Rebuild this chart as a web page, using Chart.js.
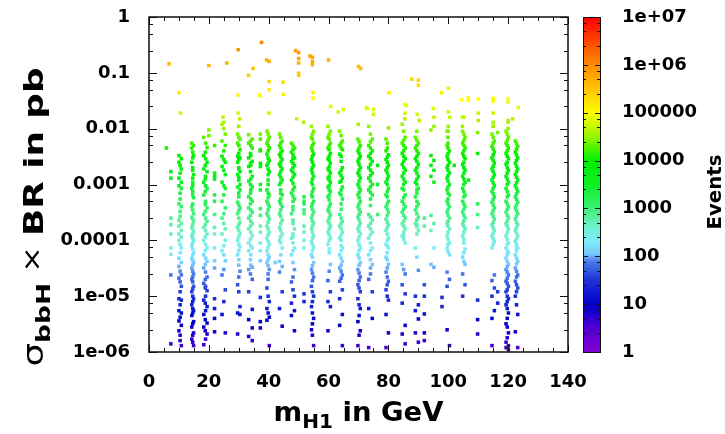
<!DOCTYPE html>
<html>
<head>
<meta charset="utf-8">
<script src="https://cdn.jsdelivr.net/npm/chart.js@4.4.1/dist/chart.umd.min.js"></script>
<style>
  html, body { margin: 0; padding: 0; background: #fff; }
</style>
</head>
<body>
<canvas id="chart" width="725" height="434"></canvas>
<script>
// bbH -> H1 scan: cross section times BR against the H1 mass, coloured by event count
const lumi = 3000; // fb^-1

const columnMass = [7.3, 10.0, 10.8, 14.3, 14.9, 18.3, 19.4, 21.9, 24.4, 25.5, 29.6, 30.4, 33.3, 34.5,
  37.2, 39.4, 40.2, 42.2, 43.6, 44.5, 47.6, 48.6, 51.8, 54.3, 55.0, 59.8, 60.6, 63.7, 64.6, 69.8, 70.6,
  73.4, 74.6, 76.4, 79.2, 80.0, 84.6, 85.6, 89.0, 90.0, 92.0, 94.2, 95.2, 97.9, 99.6, 100.4, 102.0,
  104.8, 105.6, 106.8, 109.8, 114.6, 115.4, 116.5, 119.3, 120.1, 122.4, 123.2,
  14.6, 18.9, 25.0, 30.0, 33.9, 39.8, 44.0, 48.1, 54.6, 60.2, 64.2, 70.2, 74.0, 79.6, 85.1, 89.5,
  99.9, 105.2, 115.0, 119.7, 122.8];

const columnSigma = [
  [1.7e-3, 1.3e-3, 2.5e-4, 1.9e-4, 1.3e-4, 7.3e-5, 5.6e-5, 2.4e-5, 1.4e-6],
  [3.3e-3, 2.5e-3, 1.3e-3, 9.5e-4, 4.5e-4, 2.3e-4, 1.8e-4, 1.3e-4, 1e-4, 4.8e-5, 3.4e-5, 2.1e-5, 9e-6, 5.5e-6, 3.6e-6, 2.4e-6],
  [2.9e-3, 1.9e-3, 1.1e-3, 8.5e-4, 4e-4, 2e-4, 1.5e-4, 1.15e-4, 7.3e-5, 4e-5, 2.4e-5, 1.5e-5, 8.5e-6, 5e-6, 3e-6, 1.3e-6],
  [5.5e-3, 4.5e-3, 2.5e-3, 8.5e-4, 4e-4, 2.6e-4, 1.7e-4, 1.2e-4, 8e-5, 4.8e-5, 3.2e-5, 2e-5, 1.2e-5, 7e-6, 4.5e-6, 2.8e-6, 1.7e-6],
  [5e-3, 3.3e-3, 1.5e-3, 5.8e-4, 3e-4, 2.2e-4, 1.4e-4, 1e-4, 6e-5, 4e-5, 2.5e-5, 1.5e-5, 9e-6, 5.5e-6, 3.5e-6, 2.2e-6, 1.3e-6],
  [7e-3, 3.3e-3, 1.9e-3, 1.1e-3, 6.5e-4, 2.9e-4, 1.7e-4, 1e-4, 5.5e-5, 3.2e-5, 1.7e-5, 8.5e-6, 4.7e-6, 2.8e-6, 1.35e-6],
  [4.6e-3, 2.5e-3, 1.7e-3, 8.5e-4, 3.8e-4, 2.2e-4, 1.3e-4, 7.3e-5, 4.2e-5, 2.2e-5, 1.25e-5, 6.5e-6, 3.3e-6, 2.1e-6],
  [5e-3, 1.6e-3, 1.4e-3, 1.25e-3, 6.5e-4, 5e-4, 2.9e-4, 1.7e-4, 1.3e-4, 7.3e-5, 4.3e-5, 3.2e-5, 9e-6, 6e-6, 4e-6, 2.3e-6],
  [0.012, 6e-3, 3.2e-3, 2.1e-3, 1.1e-3, 5e-4, 2.5e-4, 1.3e-4, 6.5e-5, 2.4e-5, 4.7e-6],
  [8e-3, 5e-3, 2.5e-3, 1.5e-3, 8.5e-4, 3.8e-4, 1.6e-4, 1e-4, 4.3e-5, 1.3e-5, 2.2e-6],
  [8e-3, 5.5e-3, 3.2e-3, 2.5e-3, 1.5e-3, 9e-4, 4.8e-4, 3e-4, 1.7e-4, 1e-4, 5.5e-5, 1.6e-5, 5e-6, 2.1e-6],
  [6.5e-3, 4.2e-3, 3e-3, 1.7e-3, 1e-3, 8e-4, 3.8e-4, 2.1e-4, 1.3e-4, 7.6e-5, 2.8e-5, 6.5e-6, 4.7e-6],
  [7.8e-3, 5.5e-3, 3e-3, 2.1e-3, 1.15e-3, 6e-4, 3.8e-4, 2.5e-4, 1.6e-4, 9e-5, 6.5e-5, 3e-5, 1.2e-5, 3.8e-6, 1.9e-6],
  [6.5e-3, 4.5e-3, 2.6e-3, 1.4e-3, 9e-4, 5e-4, 3.2e-4, 2e-4, 1.2e-4, 7.3e-5, 3.3e-5, 2e-5, 5.8e-6, 2.7e-6, 1.6e-6],
  [8e-3, 6.5e-3, 4.2e-3, 4e-3, 2.4e-3, 2.1e-3, 1e-3, 8e-4, 3.7e-4, 2.8e-4, 1.8e-4, 1.4e-4, 9e-5, 6.5e-5, 4.3e-5, 9.5e-6, 3.5e-6, 2.7e-6],
  [9e-3, 5.5e-3, 3.5e-3, 2.2e-3, 8e-4, 5e-4, 3e-4, 1.8e-4, 1.1e-4, 6.5e-5, 4e-5, 1.4e-5, 6e-6, 3.7e-6],
  [7e-3, 4.5e-3, 2.7e-3, 1.7e-3, 6.5e-4, 4e-4, 2.4e-4, 1.4e-4, 8.5e-5, 5e-5, 3e-5, 8e-6, 4.2e-6, 1.3e-6],
  [4e-5],
  [8e-3, 5e-3, 3.4e-3, 2.3e-3, 1.5e-3, 1e-3, 5e-4, 3e-4, 1.7e-4, 1e-4, 4.2e-5, 2.7e-5, 6e-6],
  [6e-3, 4e-3, 2.8e-3, 1.9e-3, 1.2e-3, 6.5e-4, 4e-4, 2.3e-4, 1.3e-4, 7.3e-5, 3.4e-5, 1.2e-5, 2.9e-6],
  [5.5e-3, 3.8e-3, 2.6e-3, 1.8e-3, 1.2e-3, 7e-4, 3e-4, 1.1e-4, 5.5e-5, 1.8e-5, 7.5e-6, 4.5e-6],
  [4.5e-3, 3e-3, 2.2e-3, 1.5e-3, 9e-4, 5.5e-4, 1.6e-4, 7.3e-5, 3e-5, 1e-5, 5.5e-6, 2.4e-6],
  [6e-4, 5e-4, 4.5e-4, 3.5e-4, 3e-4, 1.8e-4, 1.4e-4, 1e-4, 7.3e-5, 1.1e-5, 8e-6],
  [0.011, 7e-3, 4.5e-3, 2.8e-3, 1.8e-3, 1.1e-3, 6.5e-4, 4e-4, 2.5e-4, 1.6e-4, 9.5e-5, 5.5e-5, 3e-5, 1.5e-5, 6.5e-6, 2.5e-6],
  [9e-3, 5.5e-3, 3.5e-3, 2.2e-3, 1.4e-3, 8.5e-4, 5e-4, 3.2e-4, 2e-4, 1.2e-4, 7.5e-5, 4e-5, 2.2e-5, 1e-5, 4e-6, 1.3e-6],
  [0.011, 7e-3, 4.5e-3, 2.9e-3, 1.9e-3, 1.3e-3, 9e-4, 6e-4, 3.5e-4, 2.2e-4, 1.4e-4, 8.5e-5, 1.9e-5, 8e-6, 2.4e-6],
  [9e-3, 5.5e-3, 3.6e-3, 2.4e-3, 1.6e-3, 1.1e-3, 7.5e-4, 4.5e-4, 2.8e-4, 1.8e-4, 1.1e-4, 3.7e-5, 1.2e-5, 6.5e-6],
  [9e-3, 5e-3, 3.5e-3, 1.6e-3, 1.1e-3, 7e-4, 2.9e-4, 1.8e-4, 1.1e-4, 5.5e-5, 3.2e-5, 1.85e-5, 9e-6, 3e-6],
  [6e-3, 4.2e-3, 2e-3, 1.3e-3, 9e-4, 5.5e-4, 2.2e-4, 1.4e-4, 7.3e-5, 4.2e-5, 2.4e-5, 1.3e-5, 4.7e-6, 1.3e-6],
  [6.5e-3, 4e-3, 2.6e-3, 1.6e-3, 1e-3, 6.5e-4, 4e-4, 2.6e-4, 1.6e-4, 1e-4, 5.5e-5, 3e-5, 1.6e-5, 9e-6, 3.5e-6, 1.3e-6],
  [5e-3, 3.2e-3, 2e-3, 1.3e-3, 8e-4, 5e-4, 3.2e-4, 2e-4, 1.3e-4, 7.3e-5, 4e-5, 2.2e-5, 1.2e-5, 6e-6, 2.4e-6],
  [0.011, 5e-3, 3.2e-3, 2e-3, 1.3e-3, 8e-4, 2.9e-4, 1.8e-4, 1.1e-4, 5.5e-5, 2e-5, 6e-6, 1.2e-6],
  [6.5e-3, 4e-3, 2.6e-3, 1.6e-3, 1e-3, 6.5e-4, 2.3e-4, 1.4e-4, 7.3e-5, 3.7e-5, 1.2e-5, 4e-6],
  [2.2e-3, 1e-3, 2.9e-4],
  [6.5e-3, 4e-3, 2.8e-3, 1.8e-3, 1.1e-3, 6.5e-4, 4e-4, 2.4e-4, 1.5e-4, 8.5e-5, 5e-5, 2.7e-5, 1.3e-5, 4.7e-6, 1.2e-6],
  [3.4e-3, 2.2e-3, 1.4e-3, 8.5e-4, 5e-4, 3.2e-4, 1.9e-4, 1.1e-4, 7.3e-5, 3.7e-5, 1.85e-5, 8.5e-6, 2.2e-6],
  [0.012, 5.5e-3, 3.6e-3, 2.3e-3, 1.4e-3, 8.5e-4, 5e-4, 3.2e-4, 2e-4, 1.2e-4, 3.7e-5, 1.6e-5, 7.5e-6, 2.1e-6],
  [7e-3, 4.5e-3, 2.9e-3, 1.8e-3, 1.1e-3, 6.5e-4, 4e-4, 2.5e-4, 1.6e-4, 9e-5, 2.5e-5, 1.1e-5, 3e-6, 1.4e-6],
  [7e-3, 4.5e-3, 2.9e-3, 1.8e-3, 1.1e-3, 6e-4, 3.5e-4, 2e-4, 7.3e-5, 1e-5, 5.5e-6, 2.2e-6],
  [5.5e-3, 3.6e-3, 2.3e-3, 1.4e-3, 8.5e-4, 4.5e-4, 2.6e-4, 1.5e-4, 2.9e-5, 7e-6, 3.9e-6, 1.5e-6],
  [2.5e-4, 1.8e-4, 1.6e-5, 1e-5, 4.8e-6, 2.2e-6, 1.6e-6],
  [9.5e-3, 3.3e-3, 2.2e-3, 1.4e-3, 2.8e-4, 1.5e-4, 3.7e-5],
  [2.7e-3, 1.8e-3, 1.1e-3, 2e-4, 7.3e-5, 3.3e-5],
  [9.5e-6, 6.5e-6],
  [9e-3, 5e-3, 3.2e-3, 2e-3, 1.3e-3, 8e-4, 5e-4, 3.2e-4, 2e-4, 1.2e-4, 7.3e-5, 2.7e-5, 1.5e-5, 2.5e-6],
  [4e-3, 2.5e-3, 1.6e-3, 1e-3, 6.5e-4, 4e-4, 2.5e-4, 1.6e-4, 9e-5, 5.5e-5, 2e-5, 1.3e-6],
  [2.2e-3],
  [9e-3, 5.5e-3, 3.6e-3, 2.3e-3, 1.4e-3, 8.5e-4, 5e-4, 3.2e-4, 2e-4, 1.2e-4, 5e-5, 2.5e-5, 1e-5],
  [7e-3, 4.5e-3, 2.9e-3, 1.8e-3, 1.1e-3, 6.5e-4, 4e-4, 2.5e-4, 1.6e-4, 7e-5, 3.7e-5, 1.6e-5],
  [1.2e-3],
  [8.5e-3, 3.6e-3, 4.5e-4, 2.9e-4, 1.7e-4, 8.5e-6, 3.8e-6, 2.1e-6],
  [8e-3, 4.8e-3, 3e-3, 1.9e-3, 1.2e-3, 7.5e-4, 4.8e-4, 3e-4, 1.9e-4, 1.2e-4, 7.3e-5, 1.9e-5, 1e-5, 4e-6, 1.3e-6],
  [6e-3, 3.8e-3, 2.4e-3, 1.5e-3, 9.5e-4, 6e-4, 3.8e-4, 2.4e-4, 1.5e-4, 9.5e-5, 2.4e-5, 1.4e-5, 5.5e-6],
  [8.5e-3, 1.2e-5, 7.5e-6],
  [9e-3, 5.5e-3, 3.6e-3, 2.3e-3, 1.4e-3, 8.5e-4, 5e-4, 3.2e-4, 2e-4, 1.2e-4, 7.3e-5, 4.8e-5, 3e-5, 1.85e-5, 1.2e-5, 7e-6, 3.2e-6, 1.5e-6, 1.2e-6],
  [7e-3, 4.5e-3, 2.9e-3, 1.8e-3, 1.1e-3, 6.5e-4, 4e-4, 2.5e-4, 1.6e-4, 9e-5, 6e-5, 3.7e-5, 2.4e-5, 1.5e-5, 9e-6, 5e-6, 2.2e-6, 1.3e-6, 1.1e-6],
  [6e-3, 3.8e-3, 2.4e-3, 1.5e-3, 9.5e-4, 6e-4, 3.8e-4, 2.4e-4, 1.5e-4, 9.5e-5, 5.5e-5, 3.2e-5, 1.85e-5, 1e-5, 2.3e-6],
  [4.8e-3, 3e-3, 1.9e-3, 1.2e-3, 7.5e-4, 4.8e-4, 3e-4, 1.9e-4, 1.2e-4, 7.3e-5, 4.2e-5, 2.4e-5, 1.4e-5, 4.7e-6, 1.2e-6],
  [3.8e-3, 2e-3, 1.1e-3, 6.5e-4, 3.5e-4, 1.9e-4, 1.3e-4, 7e-5, 3.6e-5, 2.2e-5, 1e-5, 6e-6],
  [5.5e-3, 2.9e-3, 1.4e-3, 9.5e-4, 5e-4, 2.5e-4, 1.5e-4, 8.5e-5, 4.8e-5, 2.7e-5, 1.5e-5, 1e-5, 5.5e-6, 1.7e-6],
  [1e-2, 4e-3, 2.8e-3, 1.8e-3, 9.5e-4, 6.5e-4, 3e-4, 2e-4, 8e-5, 5.5e-5, 3e-5, 8e-6],
  [7e-3, 3.6e-3, 2e-3, 1.2e-3, 6e-4, 2.5e-4, 1.5e-4, 8.5e-5, 4.5e-5, 1.2e-5],
  [6e-3, 3.6e-3, 2.4e-3, 1.7e-3, 1e-3, 7e-4, 4.5e-4, 2.8e-4, 1.8e-4, 1.05e-4, 4.5e-5, 2.5e-5],
  [8e-3, 5e-3, 3e-3, 1.9e-3, 1.2e-3, 7e-4, 4.5e-4, 2.7e-4, 1.6e-4, 9.5e-5, 5.5e-5, 3.5e-5, 2e-5],
  [7e-3, 4.5e-3, 3.1e-3, 2.1e-3, 1.35e-3, 8e-4, 5.5e-4, 3.5e-4, 2e-4, 1.15e-4, 5.5e-5],
  [5e-3, 3.4e-3, 2.4e-3, 1.65e-3, 1.05e-3, 6.2e-4, 4e-4, 2.3e-4, 1.3e-4, 9e-5, 4e-5, 2.2e-5, 1.3e-5],
  [8e-3, 5e-3, 3.2e-3, 2e-3, 1.25e-3, 7.5e-4, 4.5e-4, 2.8e-4, 1.8e-4, 1.1e-4, 6.5e-5, 3.5e-5, 1.9e-5, 8e-6, 3.2e-6],
  [8e-3, 5e-3, 3.2e-3, 2.1e-3, 1.4e-3, 9.5e-4, 6.5e-4, 4e-4, 2.5e-4, 1.6e-4, 1e-4, 6e-5],
  [7.5e-3, 4.5e-3, 2.6e-3, 1.45e-3, 8e-4, 4.5e-4, 2.5e-4, 1.6e-4, 1e-4, 6.5e-5, 2.8e-5],
  [5.8e-3, 3.6e-3, 2.3e-3, 1.45e-3, 9e-4, 5.8e-4, 3.6e-4, 2.3e-4, 1.45e-4, 8.5e-5, 4.8e-5, 2.6e-5, 1.4e-5, 4.5e-6],
  [8e-3, 5.8e-3, 3.6e-3, 2.3e-3, 1.45e-3, 9e-4, 5.5e-4, 2.6e-4, 1.6e-4, 9e-5, 4.5e-5, 2.5e-5],
  [5.5e-3, 3.1e-3, 2e-3, 1.25e-3, 7.5e-4, 4.5e-4, 2.8e-4, 1.7e-4, 1e-4, 6e-5, 3.2e-5, 1.6e-5],
  [9e-3, 6.2e-3, 4e-3, 2.6e-3, 1.6e-3, 1e-3, 5.8e-4, 3.6e-4, 2.2e-4, 1.4e-4, 1.05e-4, 3e-5],
  [9e-3, 6.2e-3, 4e-3, 2.6e-3, 1.6e-3, 1e-3, 7e-4, 4e-4, 2.3e-4, 1.75e-4, 5e-5],
  [7e-3, 4.5e-3, 2.8e-3, 1.8e-3, 1.15e-3, 7e-4, 4.5e-4, 2.8e-4, 1.8e-4, 1.05e-4, 6.3e-5],
  [8e-3, 5e-3, 3.2e-3, 2e-3, 1.25e-3, 7.5e-4, 4.5e-4, 2.8e-4, 1.8e-4, 1.4e-4, 9e-5, 4.2e-5],
  [7e-3, 4.3e-3, 2.7e-3, 1.7e-3, 1.07e-3, 6.8e-4, 4.3e-4, 2.7e-4, 1.7e-4, 1.07e-4, 8.5e-5],
  [8e-3, 5e-3, 3.2e-3, 2e-3, 1.25e-3, 7.5e-4, 4.5e-4, 2.8e-4, 1.8e-4, 1.05e-4, 6.5e-5, 4.2e-5, 2.7e-5, 1.7e-5, 8e-6, 4e-6, 1.2e-6],
  [5.4e-3, 3.4e-3, 2.1e-3, 1.35e-3, 8.5e-4, 5.4e-4, 3.4e-4, 2.1e-4, 1.35e-4, 8.5e-5, 6.5e-5, 4.8e-5, 2.8e-5, 1.6e-5, 7e-6]
];

// further points filling the densest bands
const bandMass = [10.4, 14.6, 18.8, 30.0, 34.0, 39.8, 44.0, 48.1, 54.6, 60.2, 64.2, 70.2, 74.0, 79.6,
  85.1, 89.5, 99.9, 105.2, 115.0, 119.7, 122.8];
const bandSigma = [
  [2.2e-3, 1.6e-3, 7e-4, 5.5e-4, 3.3e-4, 2.7e-4, 8.5e-5, 6e-5, 2.8e-5, 1.8e-5, 1.2e-5, 7e-6, 4.2e-6, 2e-6, 1.6e-6],
  [3e-3, 1.8e-3, 1.3e-3, 9.5e-4, 7.5e-4, 4.5e-4, 2.4e-4, 1.6e-4, 1.1e-4, 9e-5, 5.5e-5, 4.4e-5, 2.8e-5, 1.8e-5, 1.35e-5, 8e-6, 5e-6, 3.2e-6, 2e-6, 1.5e-6],
  [3.8e-3, 2.2e-3, 1.25e-3, 7.5e-4, 4.4e-4, 3.3e-4, 1.9e-4, 1.15e-4, 6.5e-5, 3.7e-5, 2e-5, 1.4e-5, 7.5e-6, 3.8e-6, 2.4e-6],
  [5e-3, 2.8e-3, 1.9e-3, 1.35e-3, 7e-4, 4.3e-4, 3.4e-4, 1.9e-4, 1.15e-4, 6.5e-5, 3.6e-5, 2.2e-5],
  [5e-3, 3.3e-3, 2.2e-3, 1.25e-3, 8e-4, 5.5e-4, 3.5e-4, 2.2e-4, 1.4e-4, 8e-5, 5.5e-5, 3.6e-5],
  [6.2e-3, 4e-3, 2.4e-3, 1.5e-3, 1e-3, 5.8e-4, 3.5e-4, 2.1e-4, 1.25e-4, 7.5e-5, 4.5e-5, 2.5e-5, 1e-5, 5e-6],
  [5.5e-3, 3.7e-3, 2.5e-3, 1.7e-3, 1.1e-3, 7e-4, 4.5e-4, 2.7e-4, 1.5e-4, 9e-5],
  [4.2e-3, 2.9e-3, 2e-3, 1.35e-3, 8e-4, 5e-4, 3.5e-4, 2e-4, 1.15e-4, 6.5e-5],
  [6.5e-3, 4e-3, 2.5e-3, 1.6e-3, 1e-3, 6e-4, 3.6e-4, 2.2e-4, 1.4e-4, 8.5e-5, 5e-5, 2.6e-5, 1.2e-5, 5e-6, 2e-6],
  [6.5e-3, 4.2e-3, 2.7e-3, 1.75e-3, 1.2e-3, 8e-4, 5.3e-4, 3.2e-4, 2e-4, 1.25e-4, 7e-5, 2.8e-5],
  [5.5e-3, 3.2e-3, 1.8e-3, 1.15e-3, 6.5e-4, 3.6e-4, 2e-4, 1.25e-4, 8e-5, 4.8e-5, 3.6e-5, 2.1e-5],
  [4.5e-3, 2.9e-3, 1.8e-3, 1.15e-3, 7.2e-4, 4.5e-4, 2.9e-4, 1.8e-4, 1.15e-4, 6.5e-5, 3.6e-5, 1.9e-5, 7e-6, 2e-6],
  [4.5e-3, 2.9e-3, 1.8e-3, 1.15e-3, 7.2e-4, 4.2e-4, 2e-4, 1.25e-4, 6.5e-5, 3.2e-5],
  [4.5e-3, 2.5e-3, 1.6e-3, 1e-3, 6e-4, 3.6e-4, 2.1e-4, 1.3e-4, 8e-5, 4.5e-5, 2.2e-5, 1e-5],
  [5e-3, 3.2e-3, 2e-3, 1.25e-3, 8e-4, 4.5e-4, 2.8e-4, 1.8e-4, 1.2e-4],
  [5e-3, 3.2e-3, 2e-3, 1.25e-3, 8e-4, 5e-4, 3e-4, 1.9e-4, 1.3e-4],
  [5.5e-3, 3.6e-3, 2.2e-3, 1.45e-3, 9e-4, 5.5e-4, 3.6e-4, 2.2e-4, 1.4e-4, 8.5e-5],
  [6.2e-3, 4e-3, 2.5e-3, 1.6e-3, 1e-3, 6e-4, 3.6e-4, 2.2e-4, 1.05e-4, 6e-5],
  [5.5e-3, 3.4e-3, 2.1e-3, 1.35e-3, 8.5e-4, 5.4e-4, 3.4e-4, 2.1e-4, 1.35e-4],
  [6.2e-3, 4e-3, 2.5e-3, 1.6e-3, 1e-3, 6e-4, 3.6e-4, 2.2e-4, 1.4e-4, 8.5e-5, 5.5e-5, 3.4e-5, 2.1e-5, 1.3e-5, 1e-5, 6e-6, 2.8e-6, 1.8e-6],
  [4.3e-3, 2.7e-3, 1.7e-3, 1.07e-3, 6.8e-4, 4.3e-4, 2.7e-4, 1.7e-4, 1.07e-4, 7.5e-5, 3.8e-5, 2.2e-5, 1.2e-5]
];

// isolated points above the main bands
const strayMass = [5.8, 6.7, 10.0, 10.5, 20.0, 20.0, 20.0, 24.7, 25.0, 26.0, 29.8, 29.8, 29.8, 30.3, 30.0,
  33.3, 34.8, 36.9, 37.0, 37.6, 39.3, 40.1, 40.1, 40.1, 40.1, 44.8, 45.0, 49.0, 49.3, 50.0, 50.0, 50.0,
  50.0, 50.0, 51.7, 53.8, 54.6, 54.6, 54.6, 54.8, 54.8, 60.0, 60.7, 63.2, 64.9, 69.9, 70.0, 70.7, 72.7,
  72.9, 75.0, 75.0, 80.0, 80.2, 85.5, 86.0, 85.5, 85.5, 87.8, 89.6, 90.0, 90.0, 90.3, 95.0, 95.2, 95.2,
  97.8, 100.0, 100.0, 100.5, 100.0, 100.0, 104.5, 104.7, 105.2, 104.7, 106.7, 106.7, 110.0, 110.0,
  110.0, 115.0, 115.0, 115.0, 115.0, 115.0, 120.0, 120.0, 120.0, 120.0, 120.0, 121.5, 123.4];
const straySigma = [4.5e-3, 0.145, 0.044, 0.019, 0.135, 9.5e-3, 7.5e-3, 0.016, 0.013, 0.15, 0.04, 0.019,
  0.26, 0.015, 0.011, 0.09, 0.12, 0.04, 0.039, 0.35, 0.17, 0.16, 0.07, 0.05, 0.019, 0.068, 0.041, 0.25,
  0.015, 0.23, 0.18, 0.15, 0.098, 0.09, 0.013, 0.2, 0.19, 0.16, 0.14, 0.044, 0.035, 0.17, 0.025, 0.02,
  0.022, 0.012, 0.13, 0.12, 0.024, 0.023, 0.022, 0.018, 0.0103, 0.044, 0.027, 0.026, 0.019, 0.015,
  0.077, 0.018, 0.074, 0.06, 0.014, 0.023, 0.016, 0.011, 0.044, 0.053, 0.02, 0.016, 0.011, 0.009,
  0.033, 0.016, 0.016, 0.011, 0.036, 0.032, 0.034, 0.019, 0.014, 0.035, 0.031, 0.019, 0.013, 0.011,
  0.034, 0.03, 0.014, 0.013, 0.01, 0.015, 0.024];

const yTickValues = [1e-6, 1e-5, 1e-4, 1e-3, 1e-2, 0.1, 1];
const yTickLabels = ['1e-06', '1e-05', '0.0001', '0.001', '0.01', '0.1', '1'];
const cbTickValues = [1, 10, 100, 1000, 1e4, 1e5, 1e6, 1e7];
const cbTickLabels = ['1', '10', '100', '1000', '10000', '100000', '1e+06', '1e+07'];

// palette: log10(events) -> rgb
const paletteLevel = [0, 0.5, 1, 1.5, 1.9, 2.05, 2.3, 2.65, 3, 3.5, 4, 4.5, 5, 5.5, 6, 6.5, 7];
const paletteRGB = [
  [128, 0, 210], [80, 0, 208], [0, 0, 200], [30, 50, 215], [75, 125, 235], [120, 200, 255],
  [125, 235, 250], [110, 240, 195], [60, 240, 120], [15, 240, 35], [0, 240, 0], [150, 245, 0],
  [255, 255, 0], [255, 195, 0], [255, 140, 0], [255, 70, 0], [255, 0, 0]
];

function paletteColour(level) {
  level = Math.max(0, Math.min(7, level));
  let i = 0;
  while (i < paletteLevel.length - 2 && level > paletteLevel[i + 1]) i++;
  const t = (level - paletteLevel[i]) / (paletteLevel[i + 1] - paletteLevel[i]);
  const a = paletteRGB[i], b = paletteRGB[i + 1];
  const c = a.map((v, k) => Math.round(v + (b[k] - v) * t));
  return 'rgb(' + c.join(',') + ')';
}

const points = [];
columnMass.forEach((m, i) => {
  columnSigma[i].forEach(s => points.push({ x: m, y: s }));
});
bandMass.forEach((m, i) => {
  bandSigma[i].forEach(s => points.push({ x: m, y: s }));
});
strayMass.forEach((m, i) => points.push({ x: m, y: straySigma[i] }));
const colours = points.map(p => paletteColour(Math.log10(p.y * lumi * 1000)));

const FONT = 'DejaVu Sans';

function line(ctx, x1, y1, x2, y2) {
  ctx.beginPath();
  ctx.moveTo(x1, y1);
  ctx.lineTo(x2, y2);
  ctx.stroke();
}

// inward log ticks at 1, 2.5, 5, 7.5 per decade
function logTicks(ctx, scale, lo, hi, draw) {
  for (let d = lo; d < hi; d *= 10) {
    [1, 2.5, 5, 7.5].forEach((f, k) => {
      draw(Math.round(scale.getPixelForValue(d * f)) + 0.5, k === 0);
    });
  }
  draw(Math.round(scale.getPixelForValue(hi)) + 0.5, true);
}

const frameAndBar = {
  id: 'frameAndBar',
  afterDraw(chart) {
    const ctx = chart.ctx;
    const a = chart.chartArea;
    const { x, y, cb } = chart.scales;
    ctx.save();
    ctx.strokeStyle = '#111';
    ctx.lineWidth = 1;

    // x ticks on bottom and top
    for (let v = 0; v <= 140; v += 5) {
      const px = Math.round(x.getPixelForValue(v)) + 0.5;
      const len = v % 20 === 0 ? 7 : 4;
      line(ctx, px, a.bottom, px, a.bottom - len);
      line(ctx, px, a.top, px, a.top + len);
    }
    // y ticks on left and right
    logTicks(ctx, y, 1e-6, 1, (py, major) => {
      const len = major ? 8 : 4;
      line(ctx, a.left, py, a.left + len, py);
      line(ctx, a.right, py, a.right - len, py);
    });

    ctx.lineWidth = 1.5;
    ctx.strokeRect(a.left, a.top, a.right - a.left, a.bottom - a.top);

    // colour box
    const bx = a.right + 15, bw = 17;
    const g = ctx.createLinearGradient(0, a.bottom, 0, a.top);
    paletteLevel.forEach(l => g.addColorStop(l / 7, paletteColour(l)));
    ctx.fillStyle = g;
    ctx.fillRect(bx, a.top, bw, a.bottom - a.top);
    ctx.lineWidth = 1;
    ctx.strokeRect(bx + 0.5, a.top + 0.5, bw, a.bottom - a.top);
    logTicks(ctx, cb, 1, 1e7, (py, major) => {
      const len = major ? 5 : 3;
      line(ctx, bx, py, bx + len, py);
      line(ctx, bx + bw, py, bx + bw - len, py);
    });
    ctx.restore();
  }
};

// draws text pieces (with subscript offsets) centred on the origin,
// stretched along the baseline to the requested length
function drawSubText(ctx, parts, length) {
  let w = 0;
  parts.forEach(p => { ctx.font = p[1]; w += ctx.measureText(p[0]).width; });
  ctx.scale(length / w, 1);
  let cx = -w / 2;
  parts.forEach(p => {
    ctx.font = p[1];
    ctx.fillText(p[0], cx, p[2]);
    cx += ctx.measureText(p[0]).width;
  });
}

const axisTitles = {
  id: 'axisTitles',
  afterDraw(chart) {
    const ctx = chart.ctx;
    const a = chart.chartArea;
    ctx.save();
    ctx.fillStyle = '#000';
    ctx.textBaseline = 'alphabetic';
    ctx.textAlign = 'left';

    ctx.save();
    ctx.translate((a.left + a.right) / 2, 421);
    drawSubText(ctx, [
      ['m', 'bold 26px ' + FONT, 0],
      ['H1', 'bold 19px ' + FONT, 7],
      [' in GeV', 'bold 26px ' + FONT, 0]
    ], 170);
    ctx.restore();

    ctx.save();
    ctx.translate(43, 217);
    ctx.rotate(-Math.PI / 2);
    drawSubText(ctx, [
      ['\u03c3', '28px ' + FONT, 0],
      ['bbH', 'bold 20px ' + FONT, 7],
      [' \u00d7 ', '24px ' + FONT, -3],
      ['BR in pb', 'bold 27px ' + FONT, 0]
    ], 299);
    ctx.restore();

    ctx.save();
    ctx.translate(721, 192);
    ctx.rotate(-Math.PI / 2);
    drawSubText(ctx, [['Events', 'bold 19px ' + FONT, 0]], 75);
    ctx.restore();
    ctx.restore();
  }
};

const tickFont = { family: FONT, size: 18, weight: 'bold' };

// vertical axes must not add their label padding above/below the plot
function fixVertical(width) {
  return s => {
    s.width = width;
    s.paddingTop = 0;
    s.paddingBottom = 0;
  };
}

new Chart(document.getElementById('chart'), {
  type: 'scatter',
  data: {
    datasets: [{
      data: points,
      pointStyle: 'rect',
      pointRadius: 2.5,
      pointBorderWidth: 0,
      backgroundColor: colours,
      borderWidth: 0
    }]
  },
  options: {
    responsive: false,
    animation: false,
    devicePixelRatio: 1,
    layout: { padding: { left: 0, right: 0, top: 17, bottom: 0 } },
    plugins: { legend: { display: false }, tooltip: { enabled: false } },
    scales: {
      x: {
        type: 'linear', min: 0, max: 140, position: 'bottom',
        grid: { display: false, drawTicks: false },
        border: { display: false },
        ticks: { stepSize: 20, color: '#000', font: tickFont, padding: 20, maxRotation: 0 },
        afterFit: s => { s.height = 434 - 352; s.paddingLeft = 0; s.paddingRight = 0; }
      },
      y: {
        type: 'logarithmic', min: 1e-6, max: 1, position: 'left',
        grid: { display: false, drawTicks: false },
        border: { display: false },
        afterBuildTicks: s => { s.ticks = yTickValues.map(v => ({ value: v, major: true })); },
        ticks: { color: '#000', font: tickFont, padding: 19, callback: (v, i) => yTickLabels[i] },
        afterFit: fixVertical(149)
      },
      cb: {
        axis: 'y', type: 'logarithmic', min: 1, max: 1e7, position: 'right',
        grid: { display: false, drawTicks: false },
        border: { display: false },
        afterBuildTicks: s => { s.ticks = cbTickValues.map(v => ({ value: v, major: true })); },
        ticks: { color: '#000', font: tickFont, padding: 54, callback: (v, i) => cbTickLabels[i] },
        afterFit: fixVertical(725 - 568)
      }
    }
  },
  plugins: [frameAndBar, axisTitles]
});
</script>
</body>
</html>
